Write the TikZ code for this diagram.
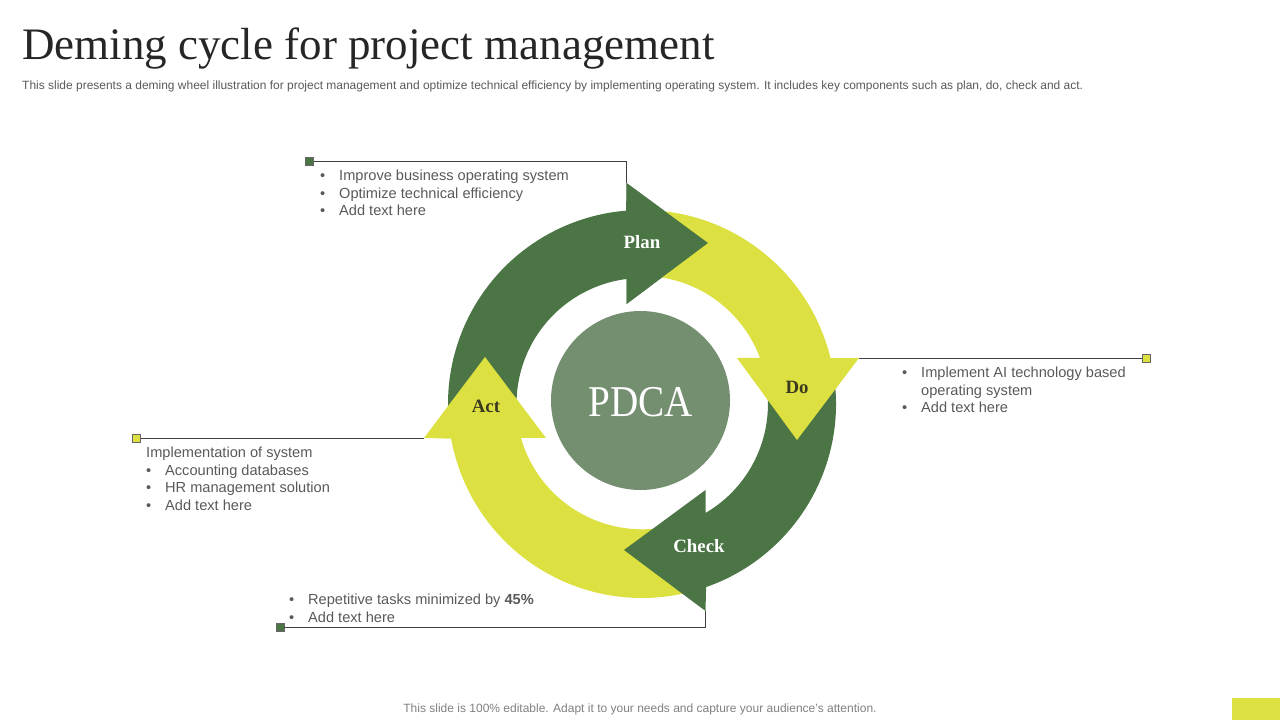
\documentclass[tikz,border=0pt]{standalone}
\usepackage{fontspec}
\setmainfont{Liberation Serif}
\setsansfont{Liberation Sans}
\newfontfamily\wheelfont[FakeStretch = 0.89]{Liberation Serif}

\definecolor{leafgreen}{HTML}{4C7546}
\definecolor{limeyellow}{HTML}{DDE041}
\definecolor{sagegreen}{HTML}{748F70}
\definecolor{bodygrey}{HTML}{595959}
\definecolor{darkolive}{HTML}{3A3A20}

\newcommand{\bulitem}[1]{\makebox[19pt][l]{\textbullet}#1}

\tikzset{
    bodytext/.style = {
        anchor = north west,
        inner sep = 0pt,
        align = left,
        text = bodygrey,
        font = \sffamily\fontsize{14.6}{17.5}\selectfont
    },
    leader/.style = {line width = 0.8pt, draw = black!75},
    markergreen/.style = {
        draw = black!60, fill = leafgreen, line width = 0.5pt,
        minimum size = 8pt, inner sep = 0pt
    },
    markeryellow/.style = {markergreen, fill = limeyellow},
    steplabel/.style = {font = \bfseries\fontsize{18.8}{20}\selectfont}
}

\begin{document}
\begin{tikzpicture}[%
        x = 1pt,
        y = 1pt,
        line cap = butt
    ]
        \useasboundingbox (0, 0) rectangle (1280, 720);

        % Nodes for all of the points (y runs up from the bottom of the slide).
        \coordinate (hub) at (642, 316);
        \coordinate (planTop) at (626.5, 537);
        \coordinate (planTip) at (708, 477);
        \coordinate (planLow) at (626.5, 416);
        \coordinate (doLeft) at (737, 362);
        \coordinate (doRight) at (859, 362);
        \coordinate (doTip) at (797, 280);
        \coordinate (checkTop) at (705.5, 230);
        \coordinate (checkTip) at (624, 170);
        \coordinate (checkLow) at (705.5, 109);
        \coordinate (actLeft) at (424, 282);
        \coordinate (actRight) at (546, 282);
        \coordinate (actTip) at (485, 363);
        \coordinate (planElbow) at (626.5, 559);
        \coordinate (checkElbow) at (705.5, 93);

        % Draw in the four arrows, each one over the tail of the next.
        \fill[leafgreen] (hub) ++(190:194) arc[start angle = 190, end angle = 94.7, radius = 194]
            -- (planTop) -- (planTip) -- (planLow) -- (626.5, 441)
            arc[start angle = 97.3, end angle = 190, radius = 126] -- cycle;
        \fill[limeyellow] (hub) ++(286:194) arc[start angle = 286, end angle = 190.3, radius = 194]
            -- (actLeft) -- (actTip) -- (actRight) -- (521, 282)
            arc[start angle = 196, end angle = 286, radius = 126] -- cycle;
        \fill[leafgreen] (hub) ++(10:194) arc[start angle = 10, end angle = -70.7, radius = 194]
            -- (checkLow) -- (checkTip) -- (checkTop) -- (705.5, 207)
            arc[start angle = -59.7, end angle = 10, radius = 126] -- cycle;
        \fill[limeyellow] (hub) ++(84:194) arc[start angle = 84, end angle = 13.7, radius = 194]
            -- (doRight) -- (doTip) -- (doLeft) -- (760, 362)
            arc[start angle = 20.4, end angle = 84, radius = 126] -- cycle;
        \fill[leafgreen] (planTop) -- (planTip) -- (planLow) -- cycle;

        % Draw in the middle circle.
        \node (pdcaDisc) at (640.5, 319.5) [
            circle, fill = sagegreen, minimum size = 179pt, inner sep = 0pt
        ] {};
        \node (pdca) at (640.5, 318) [
            text = white, font = \wheelfont\fontsize{44}{46}\selectfont
        ] {PDCA};

        % Label all of the arrows.
        \node (plan) at (642, 478) [steplabel, text = white] {Plan};
        \node (do) at (797, 333) [steplabel, text = darkolive] {Do};
        \node (check) at (699, 174) [steplabel, text = white] {Check};
        \node (act) at (486, 314) [steplabel, text = darkolive] {Act};

        % Markers and their leader lines.
        \node (planMark) at (309.5, 559) [markergreen] {};
        \node (doMark) at (1146.5, 362) [markeryellow] {};
        \node (checkMark) at (280, 93) [markergreen] {};
        \node (actMark) at (136.5, 282) [markeryellow] {};
        \draw[leader] (planMark) -- (planElbow) -- (planTop);
        \draw[leader] (doRight) -- (doMark);
        \draw[leader] (checkMark) -- (checkElbow) -- (checkLow);
        \draw[leader] (actMark) -- (actLeft);

        % Title and the small print.
        \node (title) at (22, 671) [
            anchor = west, inner sep = 0pt, text = black!85,
            font = \fontsize{45}{48}\selectfont
        ] {Deming cycle for project management};
        \node (subtitle) at (22, 634) [
            anchor = west, inner sep = 0pt, text = bodygrey,
            font = \sffamily\fontsize{11.98}{14}\selectfont
        ] {This slide presents a deming wheel illustration for project management and optimize technical efficiency by implementing operating system. It includes key components such as plan, do, check and act.};
        \node (footer) at (640, 11) [
            inner sep = 0pt, text = black!50,
            font = \sffamily\fontsize{12}{14}\selectfont
        ] {This slide is 100\% editable. Adapt it to your needs and capture your audience's attention.};
        \fill[limeyellow] (1232, 0) rectangle (1280, 22);

        % The four blocks of text.
        \node (planText) at (320, 550) [bodytext] {%
            \bulitem{Improve business operating system}\\
            \bulitem{Optimize technical efficiency}\\
            \bulitem{Add text here}};
        \node (doText) at (902, 353) [bodytext] {%
            \bulitem{Implement AI technology based}\\
            \hspace*{19pt}operating system\\
            \bulitem{Add text here}};
        \node (checkText) at (289, 126) [bodytext] {%
            \bulitem{Repetitive tasks minimized by \textbf{45\%}}\\
            \bulitem{Add text here}};
        \node (actText) at (146, 273) [bodytext] {%
            Implementation of system\\
            \bulitem{Accounting databases}\\
            \bulitem{HR management solution}\\
            \bulitem{Add text here}};
    \end{tikzpicture}
\end{document}
